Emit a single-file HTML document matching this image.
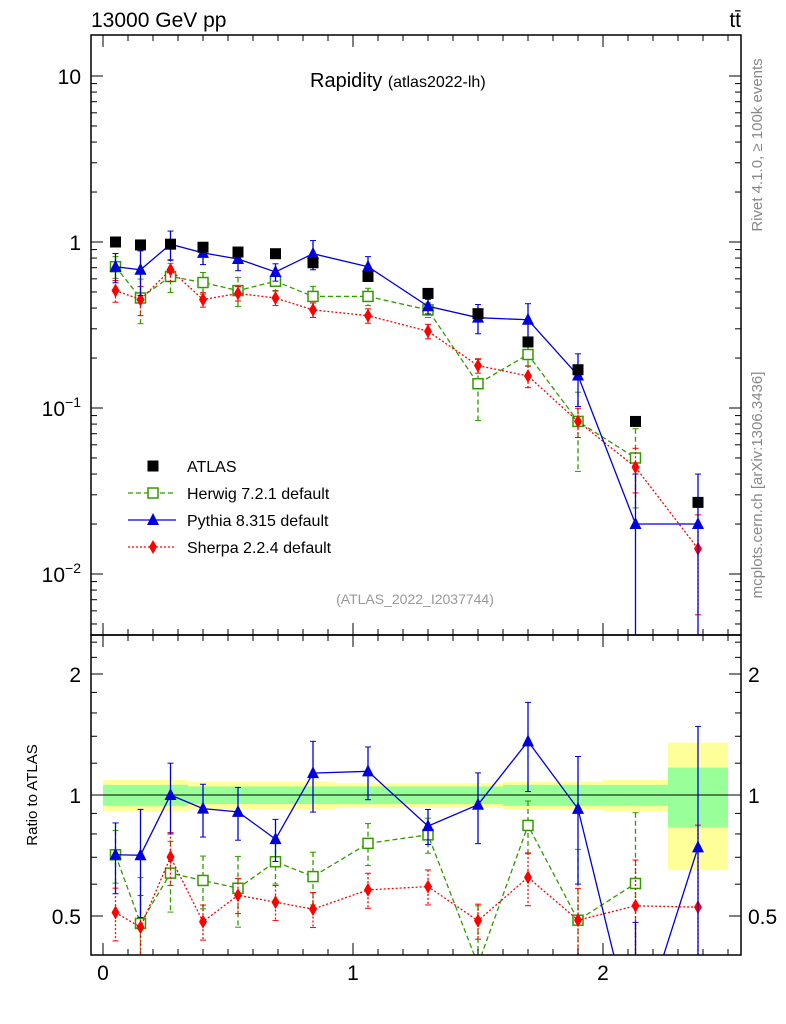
<!DOCTYPE html>
<html><head><meta charset="utf-8"><style>
html,body{margin:0;background:#fff;width:786px;height:1024px;overflow:hidden;}
svg{display:block;font-family:"Liberation Sans",sans-serif;}
</style></head><body>
<svg id="c" width="786" height="1024" viewBox="0 0 786 1024"></svg>
<script>
const centers=[0.05,0.15,0.27,0.40,0.54,0.69,0.84,1.06,1.30,1.50,1.70,1.90,2.13,2.38];
const edges=[0,0.1,0.2,0.34,0.47,0.61,0.76,0.93,1.2,1.4,1.6,1.8,2.0,2.26,2.5];
const atlas=[1.0,0.96,0.97,0.93,0.87,0.85,0.75,0.62,0.49,0.37,0.25,0.17,0.083,0.027];
const bandInner=[0.06,0.06,0.06,0.05,0.05,0.05,0.05,0.05,0.05,0.05,0.06,0.06,0.06,0.17];
const bandOuter=[0.09,0.09,0.09,0.08,0.08,0.08,0.08,0.07,0.07,0.07,0.08,0.08,0.09,0.35];
const herwig=[0.71,0.46,0.62,0.57,0.51,0.58,0.47,0.47,0.39,0.14,0.21,0.083,0.05,null];
const pythia=[0.71,0.68,0.97,0.86,0.79,0.66,0.85,0.71,0.41,0.35,0.34,0.157,0.02,0.02];
const sherpa=[0.51,0.45,0.68,0.45,0.49,0.46,0.39,0.36,0.29,0.18,0.156,0.083,0.044,0.0142];
const herwigErr=[0.15,0.3,0.2,0.15,0.2,0.12,0.15,0.12,0.1,0.4,0.15,0.5,0.5,0];
const pythiaErr=[0.2,0.3,0.2,0.15,0.15,0.12,0.2,0.15,0.1,0.2,0.25,0.35,1.0,1.0];
const sherpaErr=[0.15,0.2,0.15,0.1,0.1,0.1,0.1,0.1,0.1,0.1,0.15,0.2,0.3,0.6];

const S=document.getElementById('c');const NS='http://www.w3.org/2000/svg';
function el(t,a,p){const e=document.createElementNS(NS,t);for(const k in a)e.setAttribute(k,a[k]);(p||S).appendChild(e);return e;}
const X0=91,X1=741,T0=35,T1=635,R1=955;
const xs=v=>103+250*v;
const ys=v=>242-166*Math.log10(v);
const yr=v=>795-121*Math.log2(v);
const clipT=el('clipPath',{id:'ct'});el('rect',{x:X0,y:T0,width:X1-X0,height:T1-T0},clipT);
const clipR=el('clipPath',{id:'cr'});el('rect',{x:X0,y:T1,width:X1-X0,height:R1-T1},clipR);
const gT=el('g',{'clip-path':'url(#ct)'});
const gR=el('g',{'clip-path':'url(#cr)'});
for(let i=0;i<centers.length;i++){
 const a=xs(edges[i]),b=xs(edges[i+1]);
 const o=el('rect',{x:a,y:yr(1+bandOuter[i]),width:b-a,height:yr(1-bandOuter[i])-yr(1+bandOuter[i]),fill:'#ffff99'},gR);
 
 const n=el('rect',{x:a,y:yr(1+bandInner[i]),width:b-a,height:yr(1-bandInner[i])-yr(1+bandInner[i]),fill:'#99ff99'},gR);
 
}
el('line',{x1:X0,x2:X1,y1:yr(1),y2:yr(1),stroke:'#000','stroke-width':1},gR);
function marker(g,kind,x,y,col){
 if(kind==='sq')return el('rect',{x:x-5.5,y:y-5.5,width:11,height:11,fill:'#000'},g);
 if(kind==='osq')return el('rect',{x:x-5,y:y-5,width:10,height:10,fill:'#fff',stroke:col,'stroke-width':1.5},g);
 if(kind==='tri')return el('polygon',{points:`${x},${y-7} ${x-6},${y+5} ${x+6},${y+5}`,fill:col},g);
 return el('polygon',{points:`${x},${y-7} ${x-4},${y} ${x},${y+7} ${x+4},${y}`,fill:col},g);
}
function series(name,vals,errs,col,dash,kind){
 [[gT,ys,v=>v,T1],[gR,yr,(v,i)=>v/atlas[i],R1]].forEach(([g,sc,f,bot],pi)=>{
  const sg=el('g',{},g);
  const pts=[];
  vals.forEach((v,i)=>{if(v==null)return;const y=f(v,i);pts.push(xs(centers[i])+','+sc(y));});
  el('polyline',{points:pts.join(' '),fill:'none',stroke:col,'stroke-width':1.3,'stroke-dasharray':dash},sg);
  vals.forEach((v,i)=>{if(v==null)return;const y=f(v,i);const x=xs(centers[i]);
   const hi=sc(y*(1+errs[i])),lo=errs[i]>=1?bot+5:sc(y*(1-errs[i]));
   el('line',{x1:x,x2:x,y1:hi,y2:lo,stroke:col,'stroke-width':1.3,'stroke-dasharray':dash},sg);
   el('line',{x1:x-3,x2:x+3,y1:hi,y2:hi,stroke:col},sg);el('line',{x1:x-3,x2:x+3,y1:lo,y2:lo,stroke:col},sg);
   const m=marker(sg,kind,x,sc(y),col);});
 });
}
series('herwig',herwig,herwigErr,'#339900','5,3','osq');
series('sherpa',sherpa,sherpaErr,'#ff0000','2,2','dia');
series('pythia',pythia,pythiaErr,'#0000dd','','tri');
const ag=el('g',{},gT);
atlas.forEach((v,i)=>{const m=marker(ag,'sq',xs(centers[i]),ys(v));});
el('rect',{x:X0,y:T0,width:X1-X0,height:T1-T0,fill:'none',stroke:'#000','stroke-width':1.5});
el('rect',{x:X0,y:T1,width:X1-X0,height:R1-T1,fill:'none',stroke:'#000','stroke-width':1.5});
for(let k=0;k<=25;k++){const x=xs(k/10);if(x>X1)break;const L=k%10==0?12:6;
 [T0,T1].forEach(y=>el('line',{x1:x,x2:x,y1:y,y2:y+L,stroke:'#000'}));
 [T1,R1].forEach(y=>el('line',{x1:x,x2:x,y1:y,y2:y-L,stroke:'#000'}));}
['0','1','2'].forEach((t,i)=>{const e=el('text',{x:xs(i),y:980,'font-size':21,'text-anchor':'middle'});e.textContent=t;});
for(let d=-3;d<=1;d++)for(let m=1;m<10;m++){const v=m*Math.pow(10,d);const y=ys(v);if(y<T0||y>T1)continue;const L=m==1?12:6;
 el('line',{x1:X0,x2:X0+L,y1:y,y2:y,stroke:'#000'});el('line',{x1:X1,x2:X1-L,y1:y,y2:y,stroke:'#000'});}
function lbl(x,y,html,name,sz,anchor){const e=el('text',{x:x,y:y,'font-size':sz||21,'text-anchor':anchor||'end'});e.innerHTML=html;return e;}
lbl(81,84,'10','y-tick-label');lbl(81,250,'1','y-tick-label');
lbl(81,416,'10<tspan dy="-9" font-size="14">−1</tspan>','y-tick-label');
lbl(81,582,'10<tspan dy="-9" font-size="14">−2</tspan>','y-tick-label');
[0.5,0.6,0.7,0.8,0.9,1,1.2,1.4,1.6,1.8,2,2.2,2.4].forEach(v=>{const y=yr(v);const L=(v==0.5||v==1||v==2)?12:6;
 el('line',{x1:X0,x2:X0+L,y1:y,y2:y,stroke:'#000'});el('line',{x1:X1,x2:X1-L,y1:y,y2:y,stroke:'#000'});});
[[2,'2'],[1,'1'],[0.5,'0.5']].forEach(([v,t])=>{lbl(81,yr(v)+8,t,'ratio-tick-label');lbl(748,yr(v)+8,t,'ratio-tick-label-right',21,'start');});
const yt=lbl(0,0,'Ratio to ATLAS','ratio-axis-title',15,'middle');yt.setAttribute('transform','translate(37,795) rotate(-90)');
lbl(91,27,'13000 GeV pp','energy-label',21,'start');
lbl(741,27,'tt̄','process-label',21,'end');
lbl(310,87,'Rapidity <tspan font-size="16">(atlas2022-lh)</tspan>','plot-title',20,'start');
lbl(415,604,'(ATLAS_2022_I2037744)','analysis-id',14,'middle').setAttribute('fill','#999');
const r1=lbl(0,0,'Rivet 4.1.0, ≥ 100k events','rivet-label',15,'middle');r1.setAttribute('transform','translate(762,145) rotate(-90)');r1.setAttribute('fill','#888');
const r2=lbl(0,0,'mcplots.cern.ch [arXiv:1306.3436]','mcplots-label',15,'middle');r2.setAttribute('transform','translate(762,485) rotate(-90)');r2.setAttribute('fill','#888');
const lg=el('g',{});
const L=[['ATLAS','sq','#000',null],['Herwig 7.2.1 default','osq','#339900','5,3'],['Pythia 8.315 default','tri','#0000dd',''],['Sherpa 2.2.4 default','dia','#ff0000','2,2']];
L.forEach((r,i)=>{const y=466+27*i;const g=el('g',{},lg);
 if(r[3]!==null)el('line',{x1:128,x2:176,y1:y,y2:y,stroke:r[2],'stroke-width':1.3,'stroke-dasharray':r[3]},g);
 marker(g,r[1],153,y,r[2]);const t=el('text',{x:187,y:y+6,'font-size':16},g);t.textContent=r[0];});
</script>
</body></html>
